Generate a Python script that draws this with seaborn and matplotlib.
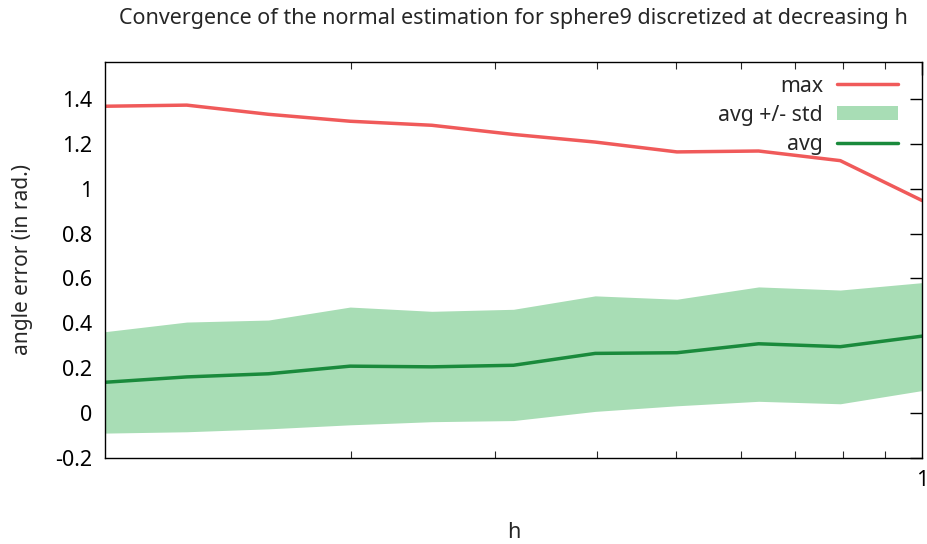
import numpy as np
import pandas as pd
import seaborn as sns
from matplotlib import pyplot as plt
from matplotlib.ticker import LogLocator, NullFormatter, FixedLocator

# h values (log spaced, 0.1 -> 1)
h = [0.1, 0.1259, 0.1585, 0.1995, 0.2512, 0.3162, 0.3981, 0.5012, 0.6310, 0.7943, 1.0]
err_max = [1.369, 1.374, 1.333, 1.302, 1.284, 1.243, 1.209, 1.165, 1.169, 1.126, 0.948]
err_avg = [0.136, 0.160, 0.174, 0.208, 0.205, 0.212, 0.265, 0.268, 0.308, 0.295, 0.342]
band_hi = [0.362, 0.405, 0.414, 0.472, 0.453, 0.462, 0.522, 0.507, 0.562, 0.548, 0.581]
band_lo = [-0.091, -0.085, -0.072, -0.054, -0.040, -0.035, 0.006, 0.031, 0.051, 0.040, 0.099]

sns.set_style("white")
plt.rcParams['font.family'] = ['Noto Sans', 'DejaVu Sans']

df = pd.DataFrame({"h": h, "max": err_max, "avg": err_avg, "lo": band_lo, "hi": band_hi})

fig = plt.figure(figsize=(9.27, 5.44), dpi=100)
ax = fig.add_axes([0.1133, 0.159, 0.8813, 0.7276])

sns.lineplot(data=df, x="h", y="max", ax=ax, color="#F05A5A", linewidth=2.5, label="max")
ax.fill_between(df["h"], df["lo"], df["hi"], color="#A8DDB5", linewidth=0, label="avg +/- std", zorder=1)
sns.lineplot(data=df, x="h", y="avg", ax=ax, color="#1A8A3C", linewidth=2.5, label="avg")

ax.set_xscale("log")
ax.set_xlim(0.1, 1.0)
ax.set_ylim(-0.2, 1.568)
ax.set_yticks(np.arange(-0.2, 1.41, 0.2))
ax.set_yticklabels(["-0.2", "0", "0.2", "0.4", "0.6", "0.8", "1", "1.2", "1.4"])
ax.xaxis.set_major_locator(FixedLocator([1.0]))
ax.set_xticklabels(["1"])
ax.xaxis.set_minor_locator(LogLocator(base=10, subs=np.arange(2, 10)))
ax.xaxis.set_minor_formatter(NullFormatter())

ax.tick_params(axis="both", which="major", direction="in", length=9, width=1,
               top=True, right=True, labelsize=15.5, pad=9, colors="black")
ax.tick_params(axis="x", which="minor", direction="in", length=5, width=0.8,
               top=True, bottom=True)
for s in ax.spines.values():
    s.set_color("black")
    s.set_linewidth(1)

ax.set_xlabel("h", fontsize=15.5, labelpad=22)
ax.set_ylabel("angle error (in rad.)", fontsize=15, labelpad=16)
ax.set_title("Convergence of the normal estimation for sphere9 discretized at decreasing h",
             fontsize=15.5, pad=27)

handles, labels = ax.get_legend_handles_labels()
order = [labels.index("max"), labels.index("avg +/- std"), labels.index("avg")]
ax.legend([handles[i] for i in order], [labels[i] for i in order],
          loc="upper right", frameon=False, markerfirst=False, fontsize=15.3,
          handlelength=2.87, handleheight=0.66, handletextpad=0.66, labelspacing=0.38,
          bbox_to_anchor=(0.994, 1.013))

fig.savefig("out.png", dpi=100)
